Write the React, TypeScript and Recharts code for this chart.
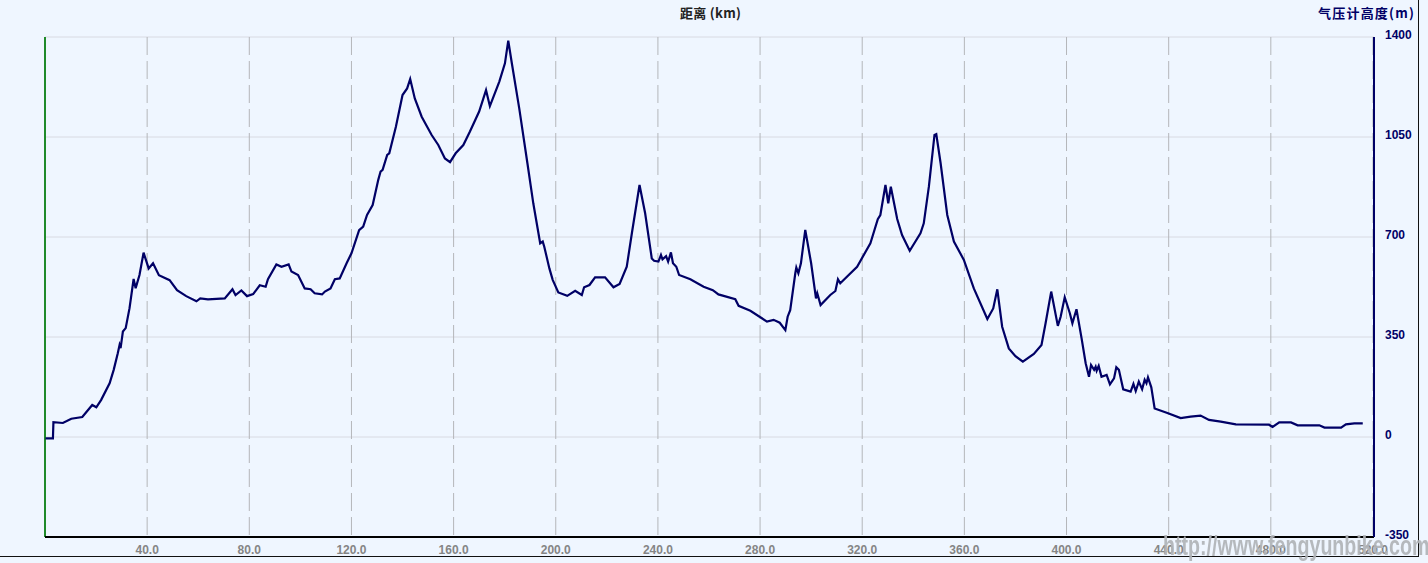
import { ComposedChart, Line, XAxis, YAxis, CartesianGrid, ReferenceLine } from "recharts";

const distanceKm = [
  0.2, 3.1, 3.3, 7, 10.3, 14.6, 18.5, 20.1, 22, 25.3, 26.9, 28.5, 29.2, 29.6, 30.5, 31.6, 33.1, 34.7, 35.5, 37, 38.6,
  40.6, 42.3, 44.6, 48.8, 51.7, 55.3, 59.3, 60.8, 63.8, 70.4, 73.4, 74.6, 76.9, 79.1, 81.5, 84.1, 86.4, 87.3, 90.6,
  92.6, 95.4, 96.5, 99.1, 101.7, 104, 105.6, 108.5, 109.6, 111.8, 113.5, 115.4, 118.1, 120, 123, 124.6, 126.1, 128.3,
  130.5, 131.4, 132.2, 134, 134.8, 137.4, 140, 141.8, 143, 144.8, 147.5, 151.4, 154, 156.6, 158.6, 160.8, 163.8,
  166.4, 170, 172.7, 174.2, 177.9, 180.1, 181.4, 182.8, 185.7, 188.9, 191.2, 193.9, 194.9, 195.5, 197.5, 198.8, 201,
  204.5, 207.6, 210.2, 211.1, 213.2, 215.4, 219.3, 222.6, 225, 227.8, 229.8, 232.8, 235, 237.6, 238.5, 240.2, 241.2,
  241.8, 243.2, 244, 245.1, 245.9, 247.2, 248.3, 252.7, 257.9, 261.5, 263.7, 270.3, 271.6, 276.2, 282.7, 285.3,
  287.7, 289.9, 290.8, 291.8, 293.8, 294.2, 295, 296, 297.7, 300, 301.9, 302.4, 303.7, 307.5, 309.5, 310.5, 311.4,
  318, 323.2, 326.1, 327.1, 329.1, 330.2, 331.2, 333.7, 335.6, 338.6, 342.8, 344.1, 346.1, 348.3, 349, 350.7, 353.3,
  355.9, 359.8, 363.7, 369, 371.3, 372.9, 374.8, 377.4, 380, 382.9, 387.2, 390.2, 391.8, 394, 396.6, 397.7, 399.3,
  401.3, 402.3, 403.9, 405.9, 407.5, 408.8, 409.6, 410.8, 411.4, 411.8, 412.6, 413.7, 415.7, 417, 418.6, 419.5,
  420.5, 422.2, 425.1, 426.2, 427.1, 428.3, 429.6, 430.6, 431.3, 431.9, 433.2, 434.5, 439.5, 444.7, 448.6, 452.5,
  455.8, 460.4, 466.3, 479.3, 480.7, 483.3, 487.9, 490.5, 499, 501, 507.5, 509.4, 512.7, 516,
];

const altitudeM = [
  -5, -5, 52, 49, 64, 70, 112, 104, 130, 188, 235, 293, 322, 311, 369, 381, 451, 553, 521, 567, 645,
  590, 608, 566, 549, 514, 493, 475, 485, 482, 485, 517, 497, 513, 493, 500, 531, 526, 552, 604,
  596, 604, 579, 567, 520, 517, 503, 499, 509, 520, 552, 555, 608, 643, 724, 736, 777, 812,
  900, 929, 935, 987, 993, 1086, 1197, 1220, 1253, 1185, 1121, 1057, 1022, 975, 962, 993, 1022,
  1069, 1139, 1214, 1158, 1244, 1308, 1387, 1308, 1150, 958, 818, 678, 684, 666, 590, 550, 506,
  494, 512, 497, 524, 532, 559, 559, 524, 536, 596, 713, 882, 783, 625, 617, 614, 637,
  622, 633, 614, 646, 608, 596, 567, 552, 526, 514, 499, 482, 459, 442, 404, 410,
  400, 374, 421, 444, 573, 593, 573, 608, 725, 608, 485, 503, 462, 497, 511, 552, 538,
  596, 678, 762, 777, 882, 818, 876, 763, 707, 652, 713, 748, 876, 1057, 1060, 958, 777,
  684, 620, 520, 413, 450, 517, 386, 310, 283, 264, 291, 322, 398, 509, 389, 421, 489,
  433, 398, 447, 345, 258, 211, 252, 235, 246, 232, 249, 211, 217, 184, 205, 244,
  235, 167, 159, 186, 161, 194, 167, 200, 188, 209, 174, 100, 84, 66, 71, 75,
  60, 54, 44, 43, 35, 51, 51, 41, 41, 33, 33, 44, 48, 48,
];

const distanceTicks = [40, 80, 120, 160, 200, 240, 280, 320, 360, 400, 440, 480, 520];
const altitudeTicks = [-350, 0, 350, 700, 1050, 1400];

const profile = distanceKm.map((km, i) => ({ km, altitude: altitudeM[i] }));

const BG = "#eff6ff";
const NAVY = "#000066";
const TICK_FONT = "'Liberation Sans', Arial, sans-serif";
const CJK_FONT = "'Noto Sans CJK SC', sans-serif";

function RightTick({ x, y, payload }: any) {
  return (
    <text x={x + 3} y={y + 2} fontFamily={TICK_FONT} fontSize={12} fontWeight={700} fill={NAVY}>
      {payload.value}
    </text>
  );
}

export default function App() {
  return (
    <div style={{ position: "fixed", left: 0, top: 0, width: 1428, height: 563, background: BG, overflow: "hidden" }}>
      <div style={{ position: "absolute", left: 0, top: 0, width: 1418, height: 556, borderRight: "1px solid #111", borderBottom: "1px solid #111" }} />
      <div style={{ position: "absolute", left: 680, top: 4, fontFamily: CJK_FONT, fontSize: 13, fontWeight: 700, color: "#222", lineHeight: "18px", letterSpacing: 0.3 }}>
        距离 (km)
      </div>
      <div style={{ position: "absolute", right: 13, top: 4, fontFamily: CJK_FONT, fontSize: 13, fontWeight: 700, color: NAVY, lineHeight: "18px", letterSpacing: 1.2 }}>
        气压计高度(m)
      </div>
      <ComposedChart
        width={1428}
        height={563}
        data={profile}
        margin={{ top: 37, right: 0, bottom: 0, left: 45 }}
        style={{ position: "absolute", left: 0, top: 0 }}
      >
        <CartesianGrid stroke="#d8dae2" vertical={false} />
        <CartesianGrid stroke="#b4b6ba" strokeDasharray="18 6" horizontal={false} />
        <XAxis
          dataKey="km"
          type="number"
          domain={[0, 520.4]}
          ticks={distanceTicks}
          interval={0}
          height={26}
          tickLine={false}
          axisLine={{ stroke: "#000", strokeWidth: 2 }}
          tickFormatter={(v: number) => v.toFixed(1)}
          tick={{ fontSize: 12, fontWeight: 700, fill: "#858585", fontFamily: TICK_FONT }}
          tickMargin={2}
        />
        <YAxis
          orientation="right"
          domain={[-350, 1400]}
          ticks={altitudeTicks}
          interval={0}
          width={54}
          tickLine={false}
          axisLine={{ stroke: NAVY, strokeWidth: 2 }}
          tick={<RightTick />}
        />
        <ReferenceLine x={0} stroke="#1f8a2a" strokeWidth={2} />
        <Line dataKey="altitude" type="linear" stroke={NAVY} strokeWidth={2.2} dot={false} isAnimationActive={false} />
      </ComposedChart>
      <div
        style={{
          position: "absolute",
          left: 1163,
          top: 531,
          fontFamily: "'Liberation Sans', sans-serif",
          fontSize: 27,
          fontWeight: 700,
          color: "rgba(176,179,183,0.92)",
          whiteSpace: "nowrap",
          transform: "scaleX(0.727)",
          transformOrigin: "left center",
          filter: "blur(0.4px)",
        }}
      >
        http://www.fengyunbike.com
      </div>
    </div>
  );
}
